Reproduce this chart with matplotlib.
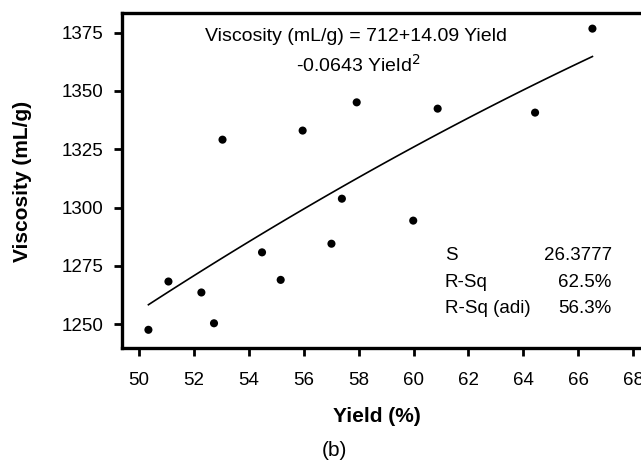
import numpy as np
import matplotlib
matplotlib.use("Agg")
import matplotlib.pyplot as plt

plt.rcParams['font.family'] = ['Liberation Sans', 'DejaVu Sans']

yield_pct = [66.52, 53.04, 55.96, 57.93, 60.88, 64.43, 57.39, 59.99,
             54.48, 57.01, 55.16, 51.07, 52.27, 52.73, 50.34]
viscosity = [1376.7, 1329.1, 1333.0, 1345.1, 1342.4, 1340.7, 1303.8, 1294.4,
             1280.8, 1284.5, 1269.0, 1268.3, 1263.6, 1250.4, 1247.6]
fit_coef = [712.0, 14.09, -0.0643]   # intercept, linear, quadratic
stat_names = ["S", "R-Sq", "R-Sq (adi)"]
stat_values = ["26.3777", "62.5%", "56.3%"]
x_ticks = [50, 52, 54, 56, 58, 60, 62, 64, 66, 68]
y_ticks = [1250, 1275, 1300, 1325, 1350, 1375]

W, H = 641, 462
fig = plt.figure(figsize=(W / 100, H / 100), dpi=100)
l, r, t, b = 121.8, 641, 13, 348
aw, ah = r - l, b - t
ax = fig.add_axes([l / W, 1 - b / H, aw / W, ah / H])

def ax_x(px):
    return (px - l) / aw

def ax_y(py):
    return (b - py) / ah

xs = np.linspace(min(yield_pct), max(yield_pct), 100)
fit = fit_coef[0] + fit_coef[1] * xs + fit_coef[2] * xs ** 2
ax.plot(xs, fit, color='black', lw=1.2)
ax.scatter(yield_pct, viscosity, s=34, color='black', zorder=3, edgecolors='none')

ax.set_xlim(49.37, 68.29)
ax.set_ylim(1239.8, 1383.4)
ax.set_xticks(x_ticks)
ax.set_yticks(y_ticks)
ax.tick_params(axis='both', direction='out', length=6, width=2, labelsize=13.5,
               top=False, right=False)
ax.tick_params(axis='x', pad=11)
ax.tick_params(axis='y', pad=7)
for s in ['left', 'bottom', 'top']:
    ax.spines[s].set_linewidth(2.4)
ax.spines['right'].set_visible(False)

ax.set_xlabel("Yield (%)", fontsize=15, fontweight='bold', va='center')
ax.xaxis.set_label_coords(ax_x(377), ax_y(416))
ax.set_ylabel("Viscosity (mL/g)", fontsize=15, fontweight='bold', va='center')
ax.yaxis.set_label_coords(ax_x(23), ax_y(181))

ax.text(ax_x(356), ax_y(41.2), "Viscosity (mL/g) = 712+14.09 Yield", transform=ax.transAxes,
        ha='center', va='baseline', fontsize=14)
ax.text(ax_x(358), ax_y(72), "-0.0643 Yield$^2$", transform=ax.transAxes,
        ha='center', va='baseline', fontsize=14)

baselines = [260, 287, 313]
for name, val, yy in zip(stat_names, stat_values, baselines):
    ax.text(ax_x(445), ax_y(yy), name, transform=ax.transAxes, ha='left',
            va='baseline', fontsize=13.5)
    ax.text(ax_x(611.7), ax_y(yy), val, transform=ax.transAxes, ha='right',
            va='baseline', fontsize=13.5)

fig.text(334 / W, 1 - 450 / H, "(b)", ha='center', va='center', fontsize=15)

fig.savefig("out.png", dpi=100)
